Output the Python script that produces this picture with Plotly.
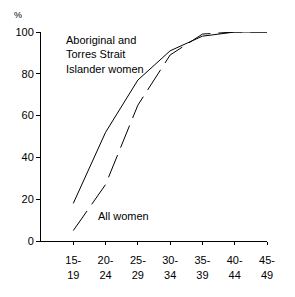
import plotly.graph_objects as go

categories = ["15-19", "20-24", "25-29", "30-34", "35-39", "40-44", "45-49"]
tick_labels = ["15-<br>19", "20-<br>24", "25-<br>29", "30-<br>34", "35-<br>39", "40-<br>44", "45-<br>49"]
aboriginal = [18, 52, 77, 91, 98, 100, 100]
all_women = [5, 27, 65, 89, 99, 100, 100]

xpos = list(range(1, len(categories) + 1))
FONT = "Liberation Sans, Arial, sans-serif"

fig = go.Figure()
fig.add_trace(go.Scatter(x=xpos, y=aboriginal, mode="lines", name="Aboriginal and Torres Strait Islander women",
                         line=dict(color="black", width=1), hoverinfo="skip"))
fig.add_trace(go.Scatter(x=xpos, y=all_women, mode="lines", name="All women",
                         line=dict(color="black", width=1, dash="24px,8px"), hoverinfo="skip"))

fig.update_layout(
    width=295, height=297,
    margin=dict(l=41, r=28, t=32, b=56),
    paper_bgcolor="white", plot_bgcolor="white",
    showlegend=False,
    font=dict(family=FONT, size=11, color="black"),
    xaxis=dict(range=[0, 7], tickmode="array", tickvals=xpos, ticktext=tick_labels,
               showgrid=False, zeroline=False, showline=True, linecolor="black", linewidth=1,
               ticks="outside", ticklen=3, tickcolor="black", ticklabelstandoff=6,
               tickfont=dict(size=11)),
    yaxis=dict(range=[0, 100], tickvals=[0, 20, 40, 60, 80, 100],
               showgrid=False, zeroline=False, showline=True, linecolor="black", linewidth=1,
               ticks="outside", ticklen=4, tickcolor="black", tickfont=dict(size=11)),
    annotations=[
        dict(text="%", xref="paper", yref="paper", x=-0.1, y=1.08, xanchor="center", yanchor="middle",
             showarrow=False, font=dict(size=9)),
        dict(text="Aboriginal and<br>Torres Strait<br>Islander women", x=0.7, y=100, xref="x", yref="y",
             xanchor="left", yanchor="top", align="left", showarrow=False, font=dict(size=11)),
        dict(text="All women", x=1.7, y=12, xref="x", yref="y", xanchor="left", yanchor="middle",
             showarrow=False, font=dict(size=11)),
    ],
)

fig.write_html("out.html")
